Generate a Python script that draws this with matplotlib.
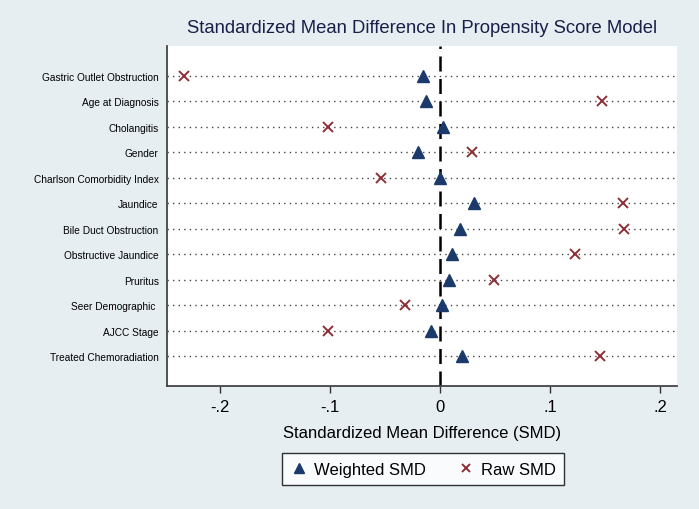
import numpy as np
import matplotlib.pyplot as plt

plt.rcParams['font.family'] = ['Liberation Sans', 'DejaVu Sans']

# covariates, top to bottom
labels = ['Gastric Outlet Obstruction', 'Age at Diagnosis', 'Cholangitis', 'Gender',
          'Charlson Comorbidity Index', 'Jaundice', 'Bile Duct Obstruction',
          'Obstructive Jaundice', 'Pruritus', 'Seer Demographic ', 'AJCC Stage',
          'Treated Chemoradiation']
weighted_smd = [-0.016, -0.013, 0.003, -0.020, 0.000, 0.031, 0.018, 0.011, 0.008, 0.002, -0.008, 0.020]
raw_smd = [-0.233, 0.147, -0.102, 0.029, -0.054, 0.166, 0.167, 0.122, 0.049, -0.032, -0.102, 0.145]
xticks = [-0.2, -0.1, 0, 0.1, 0.2]
xticklabels = ['-.2', '-.1', '0', '.1', '.2']

bg = '#e6eef2'
navy = '#1b3a6b'
red = '#8e2f36'

fig = plt.figure(figsize=(6.99, 5.10), dpi=100, facecolor=bg)
ax = fig.add_axes([0.239, 0.241, 0.7295, 0.667])
ax.set_facecolor('white')

y = np.arange(len(labels))
for yi in y:
    ax.axhline(yi, color='#444444', linestyle=(0, (1, 3)), linewidth=1.0, zorder=1)
ax.axvline(0, color='black', linestyle=(0, (6, 3)), linewidth=1.8, zorder=2)

ax.plot(weighted_smd, y, linestyle='none', marker='^', color=navy, markersize=9,
        label='Weighted SMD', zorder=3)
ax.plot(raw_smd, y, linestyle='none', marker='x', color=red, markersize=7,
        markeredgewidth=1.4, label='Raw SMD', zorder=3)

ax.set_xlim(-0.248, 0.215)
ax.set_ylim(len(labels) - 1 + 1.18, -1.18)
ax.set_yticks(y)
ax.set_yticklabels(labels, fontsize=7.3)
ax.tick_params(axis='y', length=0, pad=6)
ax.set_xticks(xticks)
ax.set_xticklabels(xticklabels, fontsize=12)
ax.tick_params(axis='x', length=5, width=1, color='#333333', pad=4)

for s in ['top', 'right']:
    ax.spines[s].set_visible(False)
for s in ['left', 'bottom']:
    ax.spines[s].set_color('#444444')
    ax.spines[s].set_linewidth(1.3)

ax.set_xlabel('Standardized Mean Difference (SMD)', fontsize=12, labelpad=8)
ax.set_title('Standardized Mean Difference In Propensity Score Model',
             fontsize=13.3, color='#1a1f4a', pad=10)

leg = fig.legend(loc='center', bbox_to_anchor=(0.605, 0.078), ncol=2, fontsize=12,
                 frameon=True, fancybox=False, edgecolor='black', handletextpad=0.4,
                 columnspacing=1.9, handlelength=1.0, borderpad=0.5, markerscale=0.75)
leg.get_frame().set_linewidth(1.0)

fig.savefig('out.png', dpi=100, facecolor=bg)
